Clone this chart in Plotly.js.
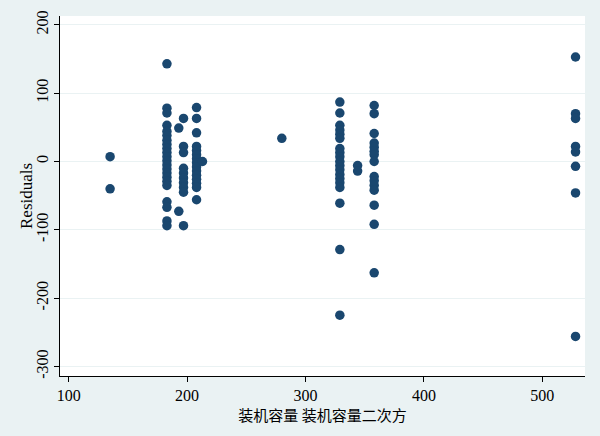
<!DOCTYPE html>
<html>
<head>
<meta charset="utf-8">
<script src="https://cdn.plot.ly/plotly-3.0.1.min.js"></script>
<style>html,body{margin:0;padding:0;background:#EAF2F3;}#chart{width:600px;height:436px;}</style>
</head>
<body>
<div id="chart"></div>
<script>
// Installed capacity (x) groups and their residuals
var capacityGroups = [135, 183, 193, 197, 208, 213, 280, 329, 344, 358, 528];
var residualsA135 = [7, -40];
var residualsA183 = [143, 78, 71, 53, 44, 38, 31, 25, 19, 13, 7, 1, -5, -11, -17, -23, -29, -35, -59, -67, -87, -94];
var residualsA193 = [49, -73];
var residualsA197 = [63, 22, 13, -10, -17, -24, -31, -38, -45, -94];
var residualsA208 = [79, 63, 42, 22, 16, 10, 4, -2, -8, -14, -20, -26, -32, -38, -56];
var residualsA213 = [0];
var residualsA280 = [34];
var residualsA329 = [87, 71, 53, 46, 40, 34, 19, 13, 7, 0, -6, -12, -19, -25, -31, -38, -61, -129, -225];
var residualsA344 = [-6, -14];
var residualsA358 = [82, 70, 41, 27, 21, 15, 10, 0, -22, -28, -35, -42, -64, -92, -163];
var residualsA528 = [153, 70, 63, 22, 14, -7, -46, -256];
var residualGroups = [residualsA135, residualsA183, residualsA193, residualsA197, residualsA208,
  residualsA213, residualsA280, residualsA329, residualsA344, residualsA358, residualsA528];

var xTicks = [100, 200, 300, 400, 500];
var yTicks = [-300, -200, -100, 0, 100, 200];
var xTitle = '装机容量 装机容量二次方';
var yTitle = 'Residuals';

var xs = [], ys = [];
capacityGroups.forEach(function (c, i) {
  residualGroups[i].forEach(function (r) { xs.push(c); ys.push(r); });
});

var serif = 'Liberation Serif, Times New Roman, serif';
var trace = {
  x: xs, y: ys, type: 'scatter', mode: 'markers',
  marker: {color: '#1A476F', size: 9.5, line: {width: 0}},
  hoverinfo: 'x+y'
};
var layout = {
  width: 600, height: 436,
  paper_bgcolor: '#EAF2F3', plot_bgcolor: '#FFFFFF',
  margin: {l: 60, r: 15, t: 16, b: 60},
  showlegend: false,
  font: {family: serif, size: 16, color: '#000'},
  xaxis: {
    range: [92.7, 536], tickvals: xTicks, ticktext: xTicks.map(String),
    showgrid: false, zeroline: false, showline: true, linecolor: '#000', linewidth: 1,
    ticks: 'outside', ticklen: 5, tickcolor: '#000', tickwidth: 1,
    tickfont: {family: serif, size: 16, color: '#000'},
    title: {text: xTitle, font: {family: 'Noto Sans CJK SC, sans-serif', size: 15, color: '#000'}, standoff: 2}
  },
  yaxis: {
    range: [-314, 213], tickvals: yTicks, ticktext: yTicks.map(String), tickangle: -90,
    showgrid: true, gridcolor: '#EAF2F3', gridwidth: 1,
    zeroline: false, showline: true, linecolor: '#000', linewidth: 1,
    ticks: 'outside', ticklen: 5, tickcolor: '#000', tickwidth: 1,
    tickfont: {family: serif, size: 16, color: '#000'},
    title: {text: ''}
  },
  annotations: [{
    text: yTitle, xref: 'paper', yref: 'paper', x: (26 - 60) / 525, y: 0.5,
    xanchor: 'center', yanchor: 'middle', textangle: -90, showarrow: false,
    font: {family: serif, size: 17, color: '#000'}
  }]
};
Plotly.newPlot('chart', [trace], layout, {displayModeBar: false, staticPlot: true});
</script>
</body>
</html>
